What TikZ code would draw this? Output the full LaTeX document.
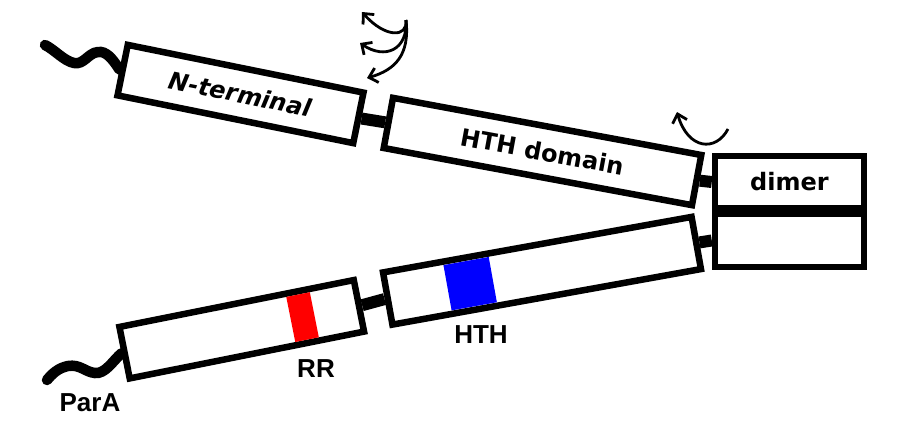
\documentclass[tikz,border=0pt]{standalone}
\usepackage{fontspec}
\usepackage{tikz}
\usetikzlibrary{arrows.meta,calc}
\newfontfamily\domfont{DejaVu Sans}
\newfontfamily\lblfont{Liberation Sans}
\definecolor{rrred}{HTML}{FF0000}
\definecolor{hthblue}{HTML}{0000FF}

\begin{document}
\begin{tikzpicture}[x=1pt, y=-1pt, >={Straight Barb[length=8pt,width=15pt]},
  domainbox/.style={draw, line width=6.5pt, fill=white, inner sep=0pt,
    font=\domfont\bfseries\fontsize{24}{28}\selectfont},
  linker/.style={line width=12pt},
  tail/.style={line width=10.5pt, line cap=round},
  rotarrow/.style={->, line width=2.8pt},
  lbl/.style={inner sep=0pt, font=\lblfont\bfseries\fontsize{26}{30}\selectfont}]
  \useasboundingbox (0,0) rectangle (904,421);

  % obere Kette
  \node[domainbox, rotate=-11.45, minimum width=240.5pt, minimum height=51.5pt]
    (nterm) at (240.5,94) {\itshape N-terminal};
  \node[domainbox, rotate=-10.5, minimum width=313.5pt, minimum height=51pt]
    (hthdom) at (542.5,151.5) {HTH domain};

  % untere Kette
  \node[domainbox, rotate=11.3, minimum width=239pt, minimum height=52.5pt]
    (rrbox) at (241.75,329.25) {};
  \node[domainbox, rotate=10.2, minimum width=313.5pt, minimum height=53pt]
    (hthbox) at (542,270.75) {};

  % Dimer
  \node[domainbox, minimum width=149pt, minimum height=52pt]
    (dimerA) at (789.5,182) {dimer};
  \node[domainbox, minimum width=149pt, minimum height=53pt]
    (dimerB) at (789.5,240.5) {};

  % Linker
  \draw[linker] (nterm.east) -- (hthdom.west);
  \draw[linker] (rrbox.east) -- (hthbox.west);
  \draw[linker] (hthdom.east) -- (dimerA.west);
  \draw[linker] (hthbox.east) -- (dimerB.west);

  % Markierungen RR und HTH
  \node[fill=rrred, inner sep=0pt, rotate=11.3, minimum width=24pt, minimum height=46pt]
    (rr) at ($(rrbox.center)!62pt!(rrbox.east)$) {};
  \node[fill=hthblue, inner sep=0pt, rotate=10.2, minimum width=46pt, minimum height=46pt]
    (hth) at ($(hthbox.center)!73pt!(hthbox.west)$) {};

  % Schwänze
  \draw[tail] (nterm.west) .. controls (112,58) and (106,51) .. (98,52)
    .. controls (88,53) and (84,65) .. (74,63)
    .. controls (64,61) and (55,50) .. (45,45);
  \draw[tail] (rrbox.west) .. controls (112,362) and (105,374) .. (95,373)
    .. controls (85,372) and (80,364) .. (68,366)
    .. controls (58,368) and (52,374) .. (47,380);

  % Drehpfeile
  \coordinate (rotA) at (406,20);
  \coordinate (rotB) at (728,129);
  \draw[rotarrow] (rotA) .. controls (408,38) and (385,38) .. (362,12);
  \draw[rotarrow] (rotA) .. controls (408,50) and (385,60) .. (360,43);
  \draw[rotarrow] (rotA) .. controls (410,55) and (395,70) .. (367,78);
  \draw[rotarrow] (rotB) .. controls (716,152) and (688,150) .. (677,112);

  % Beschriftungen
  \node[lbl] (rrlabel) at (316,369) {RR};
  \node[lbl] (hthlabel) at (481,335) {HTH};
  \node[lbl] (paralabel) at (90,403) {ParA};
\end{tikzpicture}
\end{document}
